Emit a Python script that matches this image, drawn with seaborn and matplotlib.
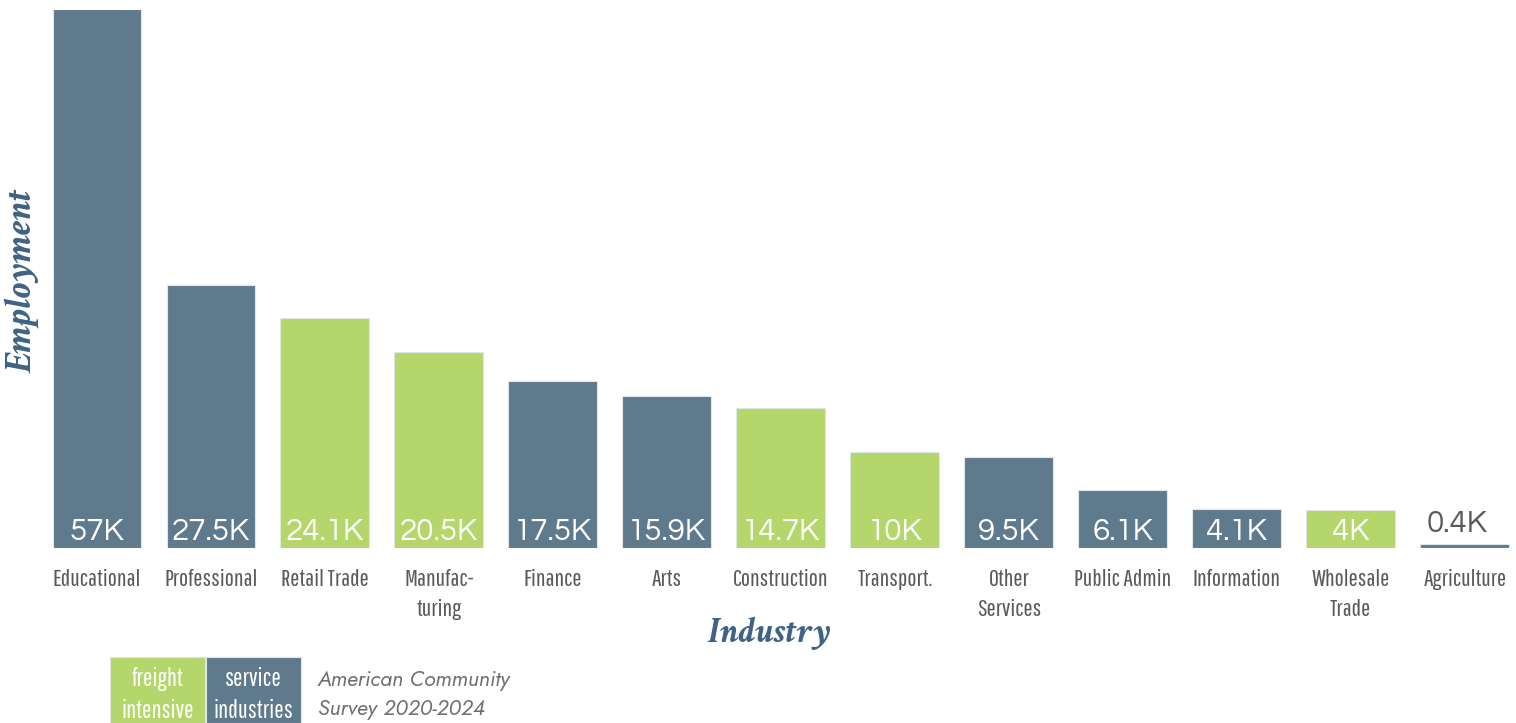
import matplotlib
matplotlib.use("Agg")
import matplotlib.pyplot as plt
import seaborn as sns
import pandas as pd
from matplotlib.patches import Rectangle

# Employment by industry (thousands)
industries = ["Educational", "Professional", "Retail Trade", "Manufac-\nturing", "Finance",
              "Arts", "Construction", "Transport.", "Other\nServices", "Public Admin",
              "Information", "Wholesale\nTrade", "Agriculture"]
employment_k = [57, 27.5, 24.1, 20.5, 17.5, 15.9, 14.7, 10, 9.5, 6.1, 4.1, 4, 0.4]
value_labels = ["57K", "27.5K", "24.1K", "20.5K", "17.5K", "15.9K", "14.7K", "10K",
                "9.5K", "6.1K", "4.1K", "4K", "0.4K"]
groups = ["service", "service", "freight", "freight", "service", "service", "freight",
          "freight", "service", "service", "service", "freight", "service"]

BLUE = "#5f7a8d"
GREEN = "#b5d66b"
TITLE_BLUE = "#3e6384"
GREY = "#5a5a5a"

NARROW = ["Pathway Gothic One", "Archivo Narrow", "DejaVu Sans"]
ROUND = ["Questrial", "Didact Gothic", "Lato", "DejaVu Sans"]
SERIF = ["Crimson Text", "DejaVu Serif"]

df = pd.DataFrame({"industry": industries, "employment": employment_k, "group": groups})

sns.set_theme(style="white")
W, H = 1516, 723
fig = plt.figure(figsize=(W / 100, H / 100), dpi=100)
ax = fig.add_axes([40 / W, (H - 548) / H, 1476 / W, 538 / H])

sns.barplot(data=df, x="industry", y="employment", hue="group",
            palette={"service": BLUE, "freight": GREEN}, saturation=1, dodge=False,
            width=0.78, edgecolor="#dfe6ea", linewidth=0.8, legend=False, ax=ax)

ax.set_xlim(-0.5, 12.45)
ax.set_ylim(0, 56.3)
for s in ax.spines.values():
    s.set_visible(False)
ax.set_yticks([])
ax.set_xlabel("")
ax.set_ylabel("")

ax.tick_params(axis="x", length=0, pad=15, labelsize=17.5, labelcolor=GREY)
for t in ax.get_xticklabels():
    t.set_fontfamily(NARROW)
    t.set_linespacing(1.55)

# value labels inside the bars, or above a bar too short to hold one
for i, (v, lab) in enumerate(zip(employment_k, value_labels)):
    inside = v >= 3
    ax.annotate(lab, xy=(i, 0 if inside else v), xytext=(0 if inside else -8, 8 if inside else 12),
                textcoords="offset pixels", ha="center", va="baseline", fontsize=22.5,
                color="white" if inside else GREY, fontfamily=ROUND)

fig.text(769 / W, (H - 633) / H, "Industry", ha="center", va="center", fontsize=26.5,
         family=SERIF, style="italic", weight="bold", color=TITLE_BLUE)
fig.text(22 / W, (H - 281) / H, "Employment", ha="center", va="center", rotation=90,
         fontsize=27.5, family=SERIF, style="italic", weight="bold", color=TITLE_BLUE)

# legend swatches
for x0, col, txt in [(110, GREEN, "freight\nintensive"), (206, BLUE, "service\nindustries")]:
    fig.patches.append(Rectangle((x0 / W, 0), 95 / W, 66 / H, transform=fig.transFigure,
                                 facecolor=col, edgecolor="#dfe6ea", linewidth=0.8))
    fig.text((x0 + 47.5) / W, (H - 695) / H, txt, ha="center", va="center", color="white",
             fontsize=18, family=NARROW, linespacing=1.4)

fig.text(318 / W, (H - 695) / H, "American Community\nSurvey 2020-2024", ha="left",
         va="center", color="#707070", fontsize=15.5, family=["Jost", "Lato"], style="italic",
         weight="light", linespacing=1.45)

fig.savefig("out.png", dpi=100)
